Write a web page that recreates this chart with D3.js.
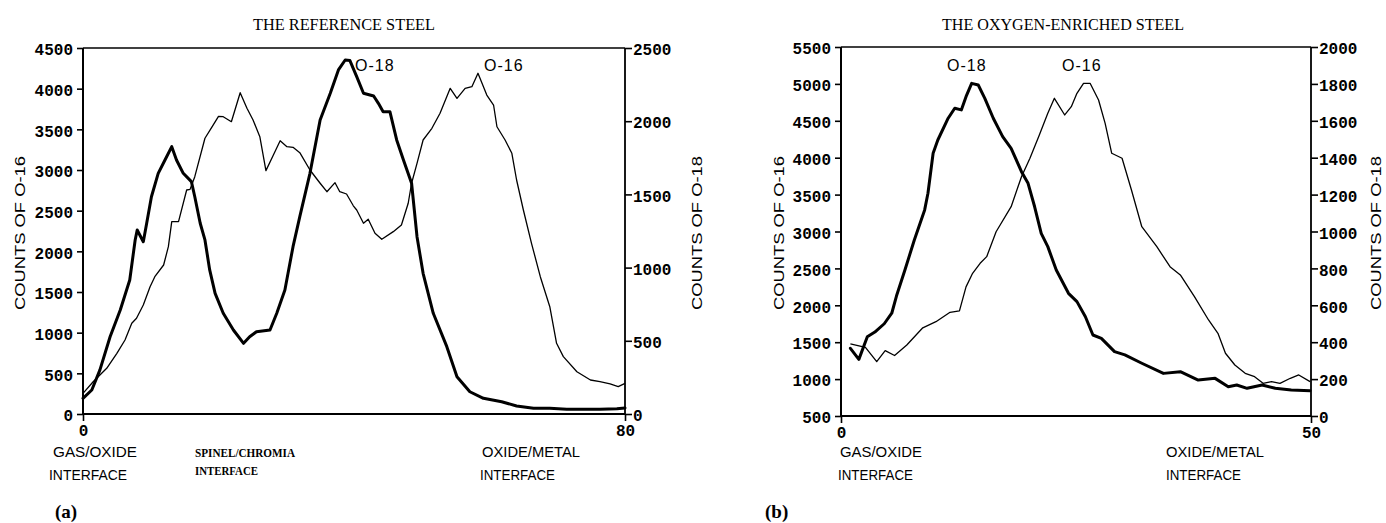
<!DOCTYPE html>
<html>
<head>
<meta charset="utf-8">
<script src="https://cdn.jsdelivr.net/npm/d3@7"></script>
<style>
  html, body { margin: 0; padding: 0; background: #fff; }
  svg { display: block; }
</style>
</head>
<body>
<svg id="chart" width="1386" height="523"></svg>
<script>
// ---------- DATA ----------
// Panel (a): the reference steel, depth 0..80
const refTitle = "THE REFERENCE STEEL";
const refLeftTicks = [0, 500, 1000, 1500, 2000, 2500, 3000, 3500, 4000, 4500];
const refRightTicks = [0, 500, 1000, 1500, 2000, 2500];
const refXTicks = [0, 80];
// O-16 (thin line, left axis)
const refO16Depth = [0, 1.5, 3.5, 5, 6.2, 7.2, 7.9, 8.9, 9.9, 10.6, 11.9, 12.6, 13.1, 14.1, 15.3, 15.8, 16.5, 18.0, 19.0, 20.0, 20.7, 21.9, 23.2, 24.2, 25.1, 26.1, 27.0, 28.1, 29.1, 30.1, 31.0, 32.0, 33.5, 35.0, 36.0, 37.2, 37.9, 38.9, 39.9, 40.4, 41.4, 42.1, 43.1, 44.1, 45.8, 47.0, 48.0, 48.5, 49.3, 50.2, 51.5, 52.7, 54.2, 55.2, 56.4, 57.4, 58.3, 59.6, 60.6, 61.1, 62.3, 63.3, 64.0, 65.0, 66.2, 67.5, 68.9, 69.9, 70.9, 72.9, 74.9, 76.3, 77.8, 79.0, 80];
const refO16Counts = [254, 397, 562, 746, 910, 1115, 1177, 1340, 1565, 1688, 1832, 2057, 2365, 2365, 2754, 2762, 2918, 3390, 3525, 3660, 3655, 3594, 3950, 3759, 3615, 3410, 2992, 3184, 3360, 3287, 3279, 3213, 3000, 2837, 2733, 2844, 2733, 2705, 2560, 2508, 2345, 2394, 2222, 2148, 2242, 2324, 2591, 2837, 3082, 3369, 3513, 3697, 4004, 3881, 4004, 4024, 4189, 3922, 3799, 3532, 3369, 3205, 2877, 2508, 2099, 1688, 1319, 869, 705, 520, 418, 397, 369, 336, 377];
// O-18 (thick line, right axis)
const refO18Depth = [0, 1.3, 2.5, 4.0, 5.5, 6.9, 7.7, 8.0, 8.9, 9.4, 10.1, 11.1, 12.1, 13.1, 13.8, 14.8, 16.0, 16.5, 17.3, 18.0, 18.7, 19.5, 20.7, 22.2, 23.7, 24.6, 25.6, 27.6, 28.6, 29.8, 31.0, 32.0, 33.5, 35.0, 36.5, 37.7, 38.7, 39.4, 40.4, 41.4, 42.9, 43.6, 44.3, 45.3, 46.3, 47.3, 48.5, 49.3, 50.2, 51.7, 53.7, 55.2, 57.1, 59.1, 61.8, 64.0, 66.5, 68.9, 71.4, 73.8, 76.3, 78.8, 80];
const refO18Counts = [107, 164, 301, 528, 710, 915, 1189, 1257, 1177, 1303, 1484, 1644, 1735, 1826, 1735, 1644, 1587, 1484, 1303, 1189, 984, 824, 688, 574, 483, 528, 562, 574, 688, 847, 1143, 1348, 1644, 2008, 2191, 2350, 2418, 2414, 2304, 2191, 2172, 2122, 2065, 2065, 1872, 1735, 1576, 1211, 961, 688, 460, 255, 152, 107, 84, 55, 39, 39, 32, 32, 32, 36, 41];

// Panel (b): the oxygen-enriched steel, depth 0..50
const enrTitle = "THE OXYGEN-ENRICHED STEEL";
const enrLeftTicks = [500, 1000, 1500, 2000, 2500, 3000, 3500, 4000, 4500, 5000, 5500];
const enrRightTicks = [0, 200, 400, 600, 800, 1000, 1200, 1400, 1600, 1800, 2000];
const enrXTicks = [0, 50];
// O-16 (thin line, left axis)
const enrO16Depth = [1.0, 2.6, 3.8, 4.7, 5.7, 7.0, 8.7, 10.1, 11.6, 12.6, 13.3, 14.0, 14.8, 15.5, 16.5, 18.1, 19.2, 20.1, 21.1, 22.0, 22.7, 23.8, 24.5, 25.1, 25.8, 26.5, 27.4, 28.1, 28.8, 29.9, 30.9, 32.0, 33.6, 35.0, 36.1, 37.6, 39.1, 40.1, 40.9, 41.9, 43.0, 44.0, 44.9, 45.8, 46.7, 47.8, 48.7, 49.9];
const enrO16Counts = [1476, 1431, 1236, 1385, 1320, 1462, 1695, 1778, 1905, 1925, 2250, 2434, 2569, 2659, 2997, 3336, 3743, 3992, 4308, 4601, 4805, 4579, 4691, 4873, 5008, 5008, 4782, 4466, 4060, 3992, 3562, 3065, 2794, 2523, 2411, 2117, 1801, 1620, 1350, 1191, 1078, 1033, 943, 965, 943, 1011, 1056, 965];
// O-18 (thick line, right axis)
const enrO18Depth = [1.0, 1.9, 2.8, 3.6, 4.6, 5.4, 5.9, 6.8, 7.8, 8.9, 9.25, 9.8, 10.3, 11.4, 12.1, 12.8, 13.3, 13.9, 14.6, 15.3, 16.2, 17.2, 18.1, 19.2, 19.9, 20.6, 21.3, 22.0, 22.9, 24.2, 25.1, 26.0, 26.8, 27.7, 29.1, 30.2, 32.0, 34.3, 36.1, 38.0, 39.8, 41.2, 42.1, 43.2, 44.8, 46.2, 47.9, 49.9];
const enrO18Counts = [367, 307, 430, 455, 500, 557, 650, 791, 954, 1117, 1207, 1424, 1496, 1614, 1668, 1659, 1731, 1803, 1794, 1722, 1614, 1514, 1451, 1324, 1261, 1134, 990, 918, 791, 665, 620, 538, 439, 421, 349, 331, 286, 231, 240, 195, 204, 159, 168, 150, 168, 150, 141, 137];

// ---------- DRAWING ----------
const svg = d3.select("#chart");
const TICK_FONT = "'Liberation Mono', 'DejaVu Sans Mono', monospace";
const SANS = "'Liberation Sans', Arial, sans-serif";
const SERIF = "'Liberation Serif', 'Times New Roman', serif";

function zip(xs, ys) { return xs.map((x, i) => [x, ys[i]]); }

function drawPanel(p) {
  const g = svg.append("g");
  const x = d3.scaleLinear().domain(p.xDomain).range([p.left, p.right]);
  const yL = d3.scaleLinear().domain(p.yLDomain).range([p.bottom, p.top]);
  const yR = d3.scaleLinear().domain(p.yRDomain).range([p.bottom, p.top]);

  // frame
  g.append("line").attr("x1", p.left).attr("x2", p.right).attr("y1", p.top).attr("y2", p.top)
    .attr("stroke", "#000").attr("stroke-width", 1.4);
  g.append("line").attr("x1", p.left).attr("x2", p.right).attr("y1", p.bottom).attr("y2", p.bottom)
    .attr("stroke", "#000").attr("stroke-width", 2);

  // left axis
  const axL = d3.axisLeft(yL).tickValues(p.leftTicks).tickSize(6).tickPadding(4).tickFormat(d3.format("d"));
  const gL = g.append("g").attr("transform", `translate(${p.left},0)`).call(axL);
  gL.select(".domain").attr("stroke-width", 2).attr("d", `M-0,${p.bottom}V${p.top}`);
  gL.selectAll(".tick line").attr("stroke-width", 1.6);
  gL.selectAll(".tick text").attr("font-family", TICK_FONT).attr("font-weight", "bold")
    .attr("font-size", 16).attr("fill", "#000").attr("dy", "0.42em");

  // right axis
  const axR = d3.axisRight(yR).tickValues(p.rightTicks).tickSize(7).tickPadding(1).tickFormat(d3.format("d"));
  const gR = g.append("g").attr("transform", `translate(${p.right},0)`).call(axR);
  gR.select(".domain").attr("stroke-width", 1.8).attr("d", `M0,${p.bottom}V${p.top}`);
  gR.selectAll(".tick line").attr("stroke-width", 1.6);
  gR.selectAll(".tick text").attr("font-family", TICK_FONT).attr("font-weight", "bold")
    .attr("font-size", 16).attr("fill", "#000").attr("dy", "0.42em");

  // bottom axis (only end ticks)
  const axB = d3.axisBottom(x).tickValues(p.xTicks).tickSize(7).tickPadding(5).tickFormat(d3.format("d"));
  const gB = g.append("g").attr("transform", `translate(0,${p.bottom})`).call(axB);
  gB.select(".domain").remove();
  gB.selectAll(".tick line").attr("stroke-width", 1.6);
  gB.selectAll(".tick text").attr("font-family", TICK_FONT).attr("font-weight", "bold")
    .attr("font-size", 16).attr("fill", "#000").attr("dy", "0.6em");

  // curves
  const lineL = d3.line().x(d => x(d[0])).y(d => yL(d[1])).curve(d3.curveLinear);
  const lineR = d3.line().x(d => x(d[0])).y(d => yR(d[1])).curve(d3.curveLinear);
  g.append("path").datum(zip(p.o16x, p.o16y)).attr("d", lineL)
    .attr("fill", "none").attr("stroke", "#000").attr("stroke-width", 1.3).attr("stroke-linejoin", "round");
  g.append("path").datum(zip(p.o18x, p.o18y)).attr("d", lineR)
    .attr("fill", "none").attr("stroke", "#000").attr("stroke-width", 3).attr("stroke-linejoin", "round").attr("stroke-linecap", "round");

  // title
  g.append("text").attr("x", p.titleX).attr("y", 30).text(p.title)
    .attr("font-family", SERIF).attr("font-size", 16).attr("textLength", p.titleW)
    .attr("lengthAdjust", "spacingAndGlyphs").attr("fill", "#000");

  // peak labels
  p.peakLabels.forEach(l => {
    g.append("text").attr("x", l.x).attr("y", 71).text(l.t)
      .attr("font-family", SANS).attr("font-size", 16).attr("letter-spacing", 1)
      .attr("fill", "#000");
  });

  // axis titles
  function vlabel(cx, cy, t) {
    g.append("text").attr("transform", `translate(${cx},${cy}) rotate(-90)`)
      .attr("text-anchor", "middle").attr("dy", "0.35em").text(t)
      .attr("font-family", SANS).attr("font-size", 14.5).attr("textLength", 154)
      .attr("lengthAdjust", "spacingAndGlyphs").attr("fill", "#000");
  }
  vlabel(p.yLabelLX, 233, "COUNTS OF O-16");
  vlabel(p.yLabelRX, 233, "COUNTS OF O-18");

  // interface labels
  p.interfaces.forEach(l => {
    g.append("text").attr("x", l.x).attr("y", 457).text(l.a)
      .attr("font-family", l.serif ? SERIF : SANS).attr("font-size", l.serif ? 12 : 15)
      .attr("font-weight", l.serif ? "bold" : "normal")
      .attr("textLength", l.wa).attr("lengthAdjust", "spacingAndGlyphs").attr("fill", "#000");
    g.append("text").attr("x", l.x2).attr("y", l.serif ? 475 : 480).text(l.b)
      .attr("font-family", l.serif ? SERIF : SANS).attr("font-size", l.serif ? 12 : 15)
      .attr("font-weight", l.serif ? "bold" : "normal")
      .attr("textLength", l.wb).attr("lengthAdjust", "spacingAndGlyphs").attr("fill", "#000");
  });

  // panel letter
  g.append("text").attr("x", p.letterX).attr("y", 518).text(p.letter)
    .attr("font-family", SERIF).attr("font-weight", "bold").attr("font-size", 19).attr("fill", "#000");
}

drawPanel({
  xDomain: [0, 80], yLDomain: [0, 4500], yRDomain: [0, 2500],
  left: 83, right: 625, top: 48, bottom: 414,
  leftTicks: refLeftTicks, rightTicks: refRightTicks, xTicks: refXTicks,
  o16x: refO16Depth, o16y: refO16Counts, o18x: refO18Depth, o18y: refO18Counts,
  title: refTitle, titleX: 253, titleW: 182,
  peakLabels: [{x: 355, t: "O-18"}, {x: 484, t: "O-16"}],
  yLabelLX: 20, yLabelRX: 697,
  interfaces: [
    {x: 53, x2: 49, a: "GAS/OXIDE", b: "INTERFACE", wa: 84, wb: 78},
    {x: 195, x2: 195, a: "SPINEL/CHROMIA", b: "INTERFACE", wa: 100, wb: 63, serif: true},
    {x: 482, x2: 480, a: "OXIDE/METAL", b: "INTERFACE", wa: 98, wb: 75}
  ],
  letter: "(a)", letterX: 55
});

drawPanel({
  xDomain: [0, 50], yLDomain: [500, 5500], yRDomain: [0, 2000],
  left: 841, right: 1311, top: 47, bottom: 416,
  leftTicks: enrLeftTicks, rightTicks: enrRightTicks, xTicks: enrXTicks,
  o16x: enrO16Depth, o16y: enrO16Counts, o18x: enrO18Depth, o18y: enrO18Counts,
  title: enrTitle, titleX: 942, titleW: 242,
  peakLabels: [{x: 947, t: "O-18"}, {x: 1062, t: "O-16"}],
  yLabelLX: 779, yLabelRX: 1376,
  interfaces: [
    {x: 840, x2: 838, a: "GAS/OXIDE", b: "INTERFACE", wa: 82, wb: 75},
    {x: 1166, x2: 1166, a: "OXIDE/METAL", b: "INTERFACE", wa: 98, wb: 75}
  ],
  letter: "(b)", letterX: 765
});
</script>
</body>
</html>
